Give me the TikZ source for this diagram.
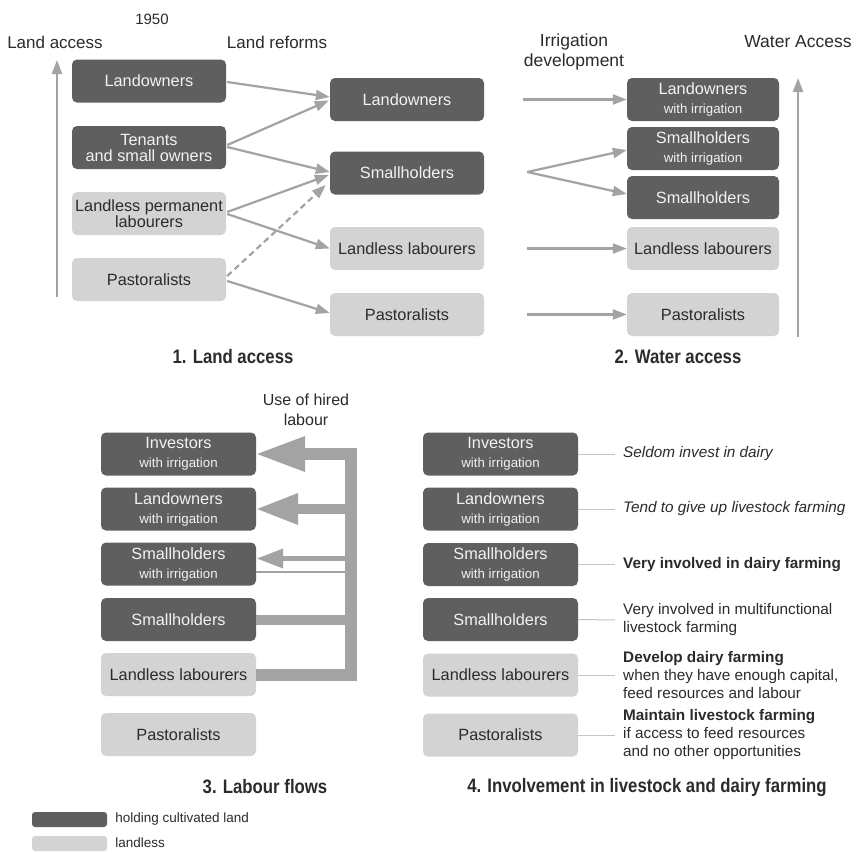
\documentclass[tikz,border=0pt]{standalone}
\usepackage{fontspec}
\setmainfont{Liberation Sans}
\newfontfamily\condfont[FakeStretch=0.86]{Liberation Sans}
\usetikzlibrary{arrows.meta,calc}
\definecolor{darkbox}{HTML}{5F5F5F}
\definecolor{lightbox}{HTML}{D3D3D3}
\definecolor{arrowgray}{HTML}{A3A3A3}
\definecolor{txt}{HTML}{2B2B2B}
\definecolor{boxtxt}{HTML}{F2F2F2}
\definecolor{thinline}{HTML}{C4C4C4}
\newcommand{\twoline}[2]{#1\\[3pt]{\fontsize{13.3}{14}\selectfont #2}}
\begin{document}
\begin{tikzpicture}[x=1pt,y=-1pt,
 boxbase/.style={rounded corners=5pt, minimum width=154pt, minimum height=43pt, inner sep=0pt, align=center, font=\fontsize{16.3}{16}\selectfont},
 dbox/.style={boxbase, fill=darkbox, text=boxtxt},
 lbox/.style={boxbase, fill=lightbox, text=txt},
 flow/.style={draw=arrowgray, line width=2.2pt, -{Triangle[length=14pt,width=10pt]}},
 header/.style={text=txt, font=\fontsize{17}{20}\selectfont, align=center, inner sep=0pt},
 title/.style={text=txt, font=\condfont\bfseries\fontsize{19.5}{22}\selectfont, inner sep=0pt},
 note/.style={text=txt, anchor=west, align=left, inner sep=0pt},
 leader/.style={draw=thinline, line width=1pt},
 band/.style={draw=arrowgray, line width=#1},
 legtext/.style={text=txt, anchor=west, font=\fontsize{13.5}{15}\selectfont, inner sep=0pt}
]
\fill[white] (0,0) rectangle (862,852);
\useasboundingbox (0,0) rectangle (862,852);

% headers
\node[header, font=\fontsize{15}{18}\selectfont] (h50) at (152,19) {1950};
\node[header] (hla) at (55,42) {Land access};
\node[header] (hlr) at (277,42) {Land reforms};
\node[header, font=\fontsize{17.5}{20}\selectfont] (hid) at (574,52) {Irrigation\\development};
\node[header, font=\fontsize{17.5}{20}\selectfont] (hwa) at (798,42) {Water Access};

% section 1 boxes
\node[dbox] (a1) at (149,81) {Landowners};
\node[dbox] (a2) at (149,147.5) {Tenants\\and small owners};
\node[lbox] (a3) at (149,213.5) {Landless permanent\\labourers};
\node[lbox] (a4) at (149,279.5) {Pastoralists};
\node[dbox] (b1) at (407,99.5) {Landowners};
\node[dbox] (b2) at (407,173) {Smallholders};
\node[lbox] (b3) at (407,248.5) {Landless labourers};
\node[lbox] (b4) at (407,314.5) {Pastoralists};
% section 2 boxes
\node[dbox, minimum width=152pt] (c1) at (703,99.5) {\twoline{Landowners}{with irrigation}};
\node[dbox, minimum width=152pt] (c2) at (703,148.5) {\twoline{Smallholders}{with irrigation}};
\node[dbox, minimum width=152pt] (c3) at (703,197.5) {Smallholders};
\node[lbox, minimum width=152pt] (c4) at (703,248.5) {Landless labourers};
\node[lbox, minimum width=152pt] (c5) at (703,314.5) {Pastoralists};

% axis arrows
\coordinate (lb) at (57,297);
\coordinate (lt) at (57,60);
\draw[flow] (lb) -- (lt);
\coordinate (rb) at (798,337);
\coordinate (rt) at (798,78);
\draw[flow] (rb) -- (rt);

% section 1 arrows
\draw[flow] ($(a1.east)+(1,1)$) -- ($(b1.west)+(0,-2.5)$);
\draw[flow] ($(a2.east)+(1,-2.5)$) -- ($(b1.west)+(-1,1)$);
\draw[flow] ($(a2.east)+(1,-0.5)$) -- ($(b2.west)+(0,-1)$);
\draw[flow] ($(a3.east)+(1,-1.5)$) -- ($(b2.west)+(-1,2)$);
\draw[flow] ($(a3.east)+(1,0.5)$) -- (b3.west);
\draw[flow, dash pattern=on 6pt off 4pt] ($(a4.east)+(1,-3.5)$) -- ($(b2.west)+(-4,12)$);
\draw[flow] ($(a4.east)+(1,1.5)$) -- ($(b4.west)+(0,-1.5)$);

% section 2 arrows
\draw[flow] ($(b1.east)+(39,0)$) -- (c1.west);
\coordinate (fk) at ($(b2.east)+(43,-1)$);
\draw[flow] (fk) -- ($(c2.west)+(0,1.5)$);
\draw[flow] (fk) -- ($(c3.west)+(0,-3.5)$);
\draw[flow] ($(b3.east)+(43,0)$) -- (c4.west);
\draw[flow] ($(b4.east)+(43,0)$) -- (c5.west);

\node[title] (t1) at (233,357) {1. Land access};
\node[title] (t2) at (678,357) {2. Water access};

% section 3
\node[header, font=\fontsize{16}{20}\selectfont] (huse) at (306,410) {Use of hired\\labour};
\node[dbox, minimum width=155pt] (s1) at (178.5,454) {\twoline{Investors}{with irrigation}};
\node[dbox, minimum width=155pt] (s2) at (178.5,509) {\twoline{Landowners}{with irrigation}};
\node[dbox, minimum width=155pt] (s3) at (178.5,564) {\twoline{Smallholders}{with irrigation}};
\node[dbox, minimum width=155pt] (s4) at (178.5,619.5) {Smallholders};
\node[lbox, minimum width=155pt] (s5) at (178.5,674.5) {Landless labourers};
\node[lbox, minimum width=155pt] (s6) at (178.5,734.5) {Pastoralists};

\coordinate (vt) at (350.5,454);
\coordinate (vb) at (350.5,674.5);
\coordinate (h1) at (305,454);
\draw[band=12pt, line join=miter] (s5.east) -- (vb) -- (vt) -- (h1);
\fill[arrowgray] (305,436) -- ($(s1.east)+(1,0)$) -- (305,472) -- cycle;
\coordinate (v2) at (350.5,509);
\draw[band=10pt] (298,509) -- (v2);
\fill[arrowgray] (298,493) -- ($(s2.east)+(1,0)$) -- (298,525) -- cycle;
\coordinate (v3) at (350.5,558.5);
\draw[band=5pt] (283,558.5) -- (v3);
\fill[arrowgray] (283,548.5) -- ($(s3.east)+(1,-5.5)$) -- (283,568.5) -- cycle;
\coordinate (v3b) at (350.5,572);
\draw[band=2pt] ($(s3.east)+(0,8)$) -- (v3b);
\coordinate (v4) at (350.5,619.5);
\draw[band=10pt] (s4.east) -- (v4);

\node[title] (t3) at (265,787) {3. Labour flows};

% section 4
\node[dbox, minimum width=155pt] (r1) at (500.5,454) {\twoline{Investors}{with irrigation}};
\node[dbox, minimum width=155pt] (r2) at (500.5,509) {\twoline{Landowners}{with irrigation}};
\node[dbox, minimum width=155pt] (r3) at (500.5,564.5) {\twoline{Smallholders}{with irrigation}};
\node[dbox, minimum width=155pt] (r4) at (500.5,619.5) {Smallholders};
\node[lbox, minimum width=155pt] (r5) at (500.5,675) {Landless labourers};
\node[lbox, minimum width=155pt] (r6) at (500.5,735) {Pastoralists};

\node[note, font=\itshape\fontsize{15.3}{18}\selectfont] (n1) at (623,454) {Seldom invest in dairy};
\node[note, font=\itshape\fontsize{15.3}{18}\selectfont] (n2) at (623,509) {Tend to give up livestock farming};
\node[note, font=\bfseries\fontsize{15.3}{18}\selectfont] (n3) at (623,564.5) {Very involved in dairy farming};
\node[note, font=\fontsize{15.3}{18}\selectfont] (n4) at (623,620) {Very involved in multifunctional\\livestock farming};
\node[note, font=\fontsize{15.3}{18}\selectfont] (n5) at (623,675) {\textbf{Develop dairy farming}\\when they have enough capital,\\feed resources and labour};
\node[note, font=\fontsize{15.3}{18}\selectfont] (n6) at (623,735) {\textbf{Maintain livestock farming}\\if access to feed resources\\and no other opportunities};

\draw[leader] (r1.east) -- ($(n1.west)+(-8,0)$);
\draw[leader] (r2.east) -- ($(n2.west)+(-8,0)$);
\draw[leader] (r3.east) -- ($(n3.west)+(-8,0)$);
\draw[leader] (r4.east) -- ($(n4.west)+(-8,0)$);
\draw[leader] (r5.east) -- ($(n5.west)+(-8,0)$);
\draw[leader] (r6.east) -- ($(n6.west)+(-8,0)$);

\node[title] (t4) at (647,787) {4. Involvement in livestock and dairy farming};

% legend
\node[dbox, minimum width=75pt, minimum height=15pt, rounded corners=3pt] (k1) at (69.5,819.5) {};
\node[lbox, minimum width=75pt, minimum height=15pt, rounded corners=3pt] (k2) at (69.5,843.5) {};
\node[legtext] (k1t) at ($(k1.east)+(8,-1)$) {holding cultivated land};
\node[legtext] (k2t) at ($(k2.east)+(8,-1)$) {landless};
\end{tikzpicture}
\end{document}
